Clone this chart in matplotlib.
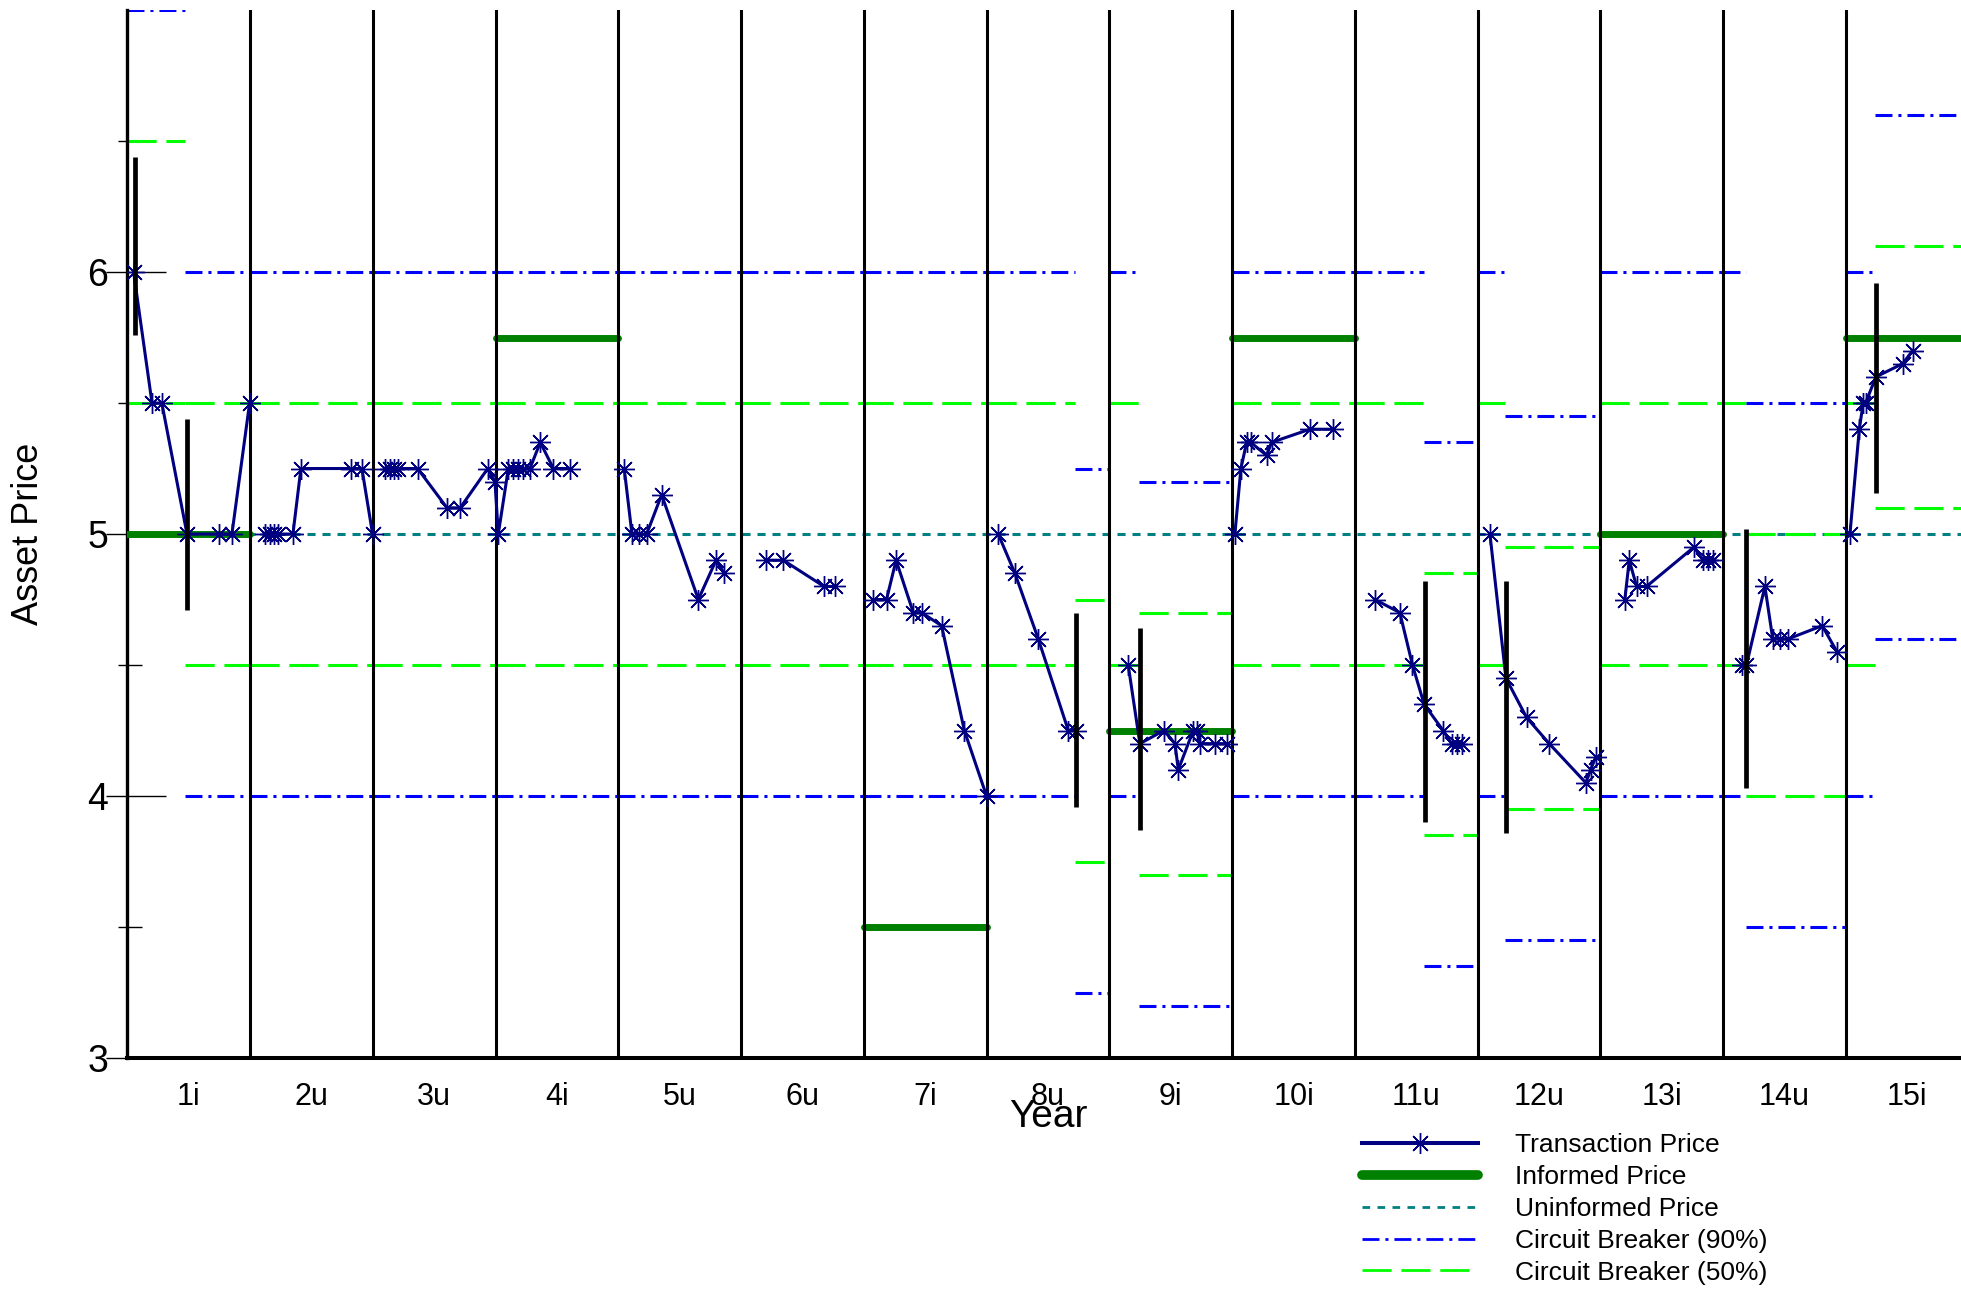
import numpy as np
import matplotlib
matplotlib.use("Agg")
import matplotlib.pyplot as plt
from matplotlib.lines import Line2D

plt.rcParams['font.family'] = ['Liberation Sans', 'DejaVu Sans']
plt.rcParams['lines.scale_dashes'] = False

nan = np.nan

# period tick labels (i = informed, u = uninformed)
period_labels = ['1i', '2u', '3u', '4i', '5u', '6u', '7i', '8u',
                 '9i', '10i', '11u', '12u', '13i', '14u', '15i']

# informed price per period (nan where the period is uninformed)
informed_price = [5.0, nan, nan, 5.75, nan, nan, 3.5, nan,
                  4.25, 5.75, nan, nan, 5.0, nan, 5.75]
uninformed_price = 5.0

# transaction prices, time in period units, nan breaks the line
trade_time = [0.05, 0.20, 0.28, 0.485, 0.743, 0.851, 0.995, nan,
              1.117, 1.158, 1.191, 1.223, 1.348, 1.413, 1.821, 1.910, 1.997, nan,
              2.100, 2.141, 2.168, 2.201, 2.364, 2.603, 2.711, 2.935, 2.994,
              3.021, 3.103, 3.144, 3.184, 3.225, 3.279, 3.363, 3.470, 3.607, nan,
              4.047, 4.110, 4.170, 4.230, 4.352, 4.651, 4.795, 4.862, nan,
              5.202, 5.343, 5.675, 5.764, nan,
              6.076, 6.184, 6.262, 6.402, 6.470, 6.633, 6.818, 6.999, nan,
              7.094, 7.230, 7.420, 7.665, 7.727, nan,
              8.153, 8.248, 8.444, 8.534, 8.561, 8.683, 8.715, 8.740, 8.860, 8.955, nan,
              9.022, 9.071, 9.118, 9.150, 9.281, 9.321, 9.634, 9.818, nan,
              10.163, 10.366, 10.469, 10.564, 10.719, 10.787, 10.829, 10.869, nan,
              11.100, 11.230, 11.398, 11.583, 11.882, 11.920, 11.963, nan,
              12.199, 12.235, 12.295, 12.376, 12.762, 12.838, 12.879, 12.920, nan,
              13.150, 13.190, 13.340, 13.404, 13.467, 13.531, 13.807, 13.928, nan,
              14.033, 14.109, 14.141, 14.160, 14.245, 14.462, 14.543]
trade_price = [6.0, 5.5, 5.5, 5.0, 5.0, 5.0, 5.5, nan,
               5.0, 5.0, 5.0, 5.0, 5.0, 5.25, 5.25, 5.25, 5.0, nan,
               5.25, 5.25, 5.25, 5.25, 5.25, 5.1, 5.1, 5.25, 5.2,
               5.0, 5.25, 5.25, 5.25, 5.25, 5.25, 5.35, 5.25, 5.25, nan,
               5.25, 5.0, 5.0, 5.0, 5.15, 4.75, 4.9, 4.85, nan,
               4.9, 4.9, 4.8, 4.8, nan,
               4.75, 4.75, 4.9, 4.7, 4.7, 4.65, 4.25, 4.0, nan,
               5.0, 4.85, 4.6, 4.25, 4.25, nan,
               4.5, 4.2, 4.25, 4.2, 4.1, 4.25, 4.25, 4.2, 4.2, 4.2, nan,
               5.0, 5.25, 5.35, 5.35, 5.3, 5.35, 5.4, 5.4, nan,
               4.75, 4.7, 4.5, 4.35, 4.25, 4.2, 4.2, 4.2, nan,
               5.0, 4.45, 4.3, 4.2, 4.05, 4.1, 4.15, nan,
               4.75, 4.9, 4.8, 4.8, 4.95, 4.9, 4.9, 4.9, nan,
               4.5, 4.5, 4.8, 4.6, 4.6, 4.6, 4.65, 4.55, nan,
               5.0, 5.4, 5.5, 5.5, 5.6, 5.65, 5.7]

# circuit breaker bands, one row per interval between resets
cb_start = [0.0, 0.47, 1, 2, 3, 4, 5, 6, 7, 7.72, 8, 8.24, 9, 10, 10.56,
            11, 11.22, 12, 13, 13.19, 14, 14.24]
cb_end = [0.47, 1, 2, 3, 4, 5, 6, 7, 7.72, 8, 8.24, 9, 10, 10.56, 11,
          11.22, 12, 13, 13.19, 14, 14.24, 15]
cb90_low = [5.0, 4, 4, 4, 4, 4, 4, 4, 4, 3.25, 4, 3.2, 4, 4, 3.35,
            4, 3.45, 4, 4, 3.5, 4, 4.6]
cb90_high = [7.0, 6, 6, 6, 6, 6, 6, 6, 6, 5.25, 6, 5.2, 6, 6, 5.35,
             6, 5.45, 6, 6, 5.5, 6, 6.6]
cb50_low = [5.5, 4.5, 4.5, 4.5, 4.5, 4.5, 4.5, 4.5, 4.5, 3.75, 4.5, 3.7, 4.5, 4.5, 3.85,
            4.5, 3.95, 4.5, 4.5, 4.0, 4.5, 5.1]
cb50_high = [6.5, 5.5, 5.5, 5.5, 5.5, 5.5, 5.5, 5.5, 5.5, 4.75, 5.5, 4.7, 5.5, 5.5, 4.85,
             5.5, 4.95, 5.5, 5.5, 5.0, 5.5, 6.1]

# trading halts (black bars)
halt_time = [0.064, 0.487, 7.727, 8.248, 10.567, 11.228, 13.19, 14.245]
halt_low = [5.76, 4.71, 3.96, 3.87, 3.90, 3.86, 4.03, 5.155]
halt_high = [6.44, 5.44, 4.70, 4.64, 4.82, 4.82, 5.02, 5.96]

navy = '#000080'
dgreen = '#008000'
teal = '#008080'
blue = '#0000ff'
lime = '#00ff00'
dash_dot = (0, (12.2, 4.3, 2.2, 4.3))
dash_long = (0, (21, 7))
dash_short = (0, (5.8, 5.0))

fig = plt.figure(figsize=(19.61, 12.89), dpi=100)
ax = fig.add_axes([0.0650, 0.1792, 0.9389, 0.8130])
n = len(period_labels)
ax.set_xlim(0, n)
ax.set_ylim(3, 7)

ax.axhline(uninformed_price, color=teal, lw=2.2, linestyle=dash_short, zorder=2)

ax.hlines(cb50_high, cb_start, cb_end, colors=lime, lw=2.2, linestyles=[dash_long], zorder=2)
ax.hlines(cb50_low, cb_start, cb_end, colors=lime, lw=2.2, linestyles=[dash_long], zorder=2)
ax.hlines(cb90_high, cb_start, cb_end, colors=blue, lw=2.2, linestyles=[dash_dot], zorder=2)
ax.hlines(cb90_low, cb_start, cb_end, colors=blue, lw=2.2, linestyles=[dash_dot], zorder=2)

starts = np.arange(n)
ax.hlines(informed_price, starts, starts + 1, colors=dgreen, lw=5, capstyle='round', zorder=3)

for k in range(1, n):
    ax.axvline(k, color='k', lw=2.2, zorder=4)

ax.plot(trade_time, trade_price, color=navy, lw=2.2, marker=(8, 2, 0),
        ms=15, mew=1, zorder=5)

ax.vlines(halt_time, halt_low, halt_high, colors='k', lw=3.4, zorder=6)

# x: labels centred in each period, no tick marks
ax.set_xticks(starts + 0.5, period_labels)
ax.tick_params(axis='x', length=0, labelsize=22, pad=17)

# y: ticks long inside, shorter outside
ax.set_yticks([3, 4, 5, 6])
ax.set_yticks([3.5, 4.5, 5.5, 6.5], minor=True)
ax.tick_params(axis='y', which='major', direction='in', length=28, width=1,
               labelsize=27, pad=14)
ax.tick_params(axis='y', which='minor', direction='in', length=11, width=1)
sec = ax.secondary_yaxis('left')
sec.set_yticks([3, 4, 5, 6])
sec.set_yticks([3.5, 4.5, 5.5, 6.5], minor=True)
sec.tick_params(which='major', direction='out', length=15, width=1, labelleft=False)
sec.tick_params(which='minor', direction='out', length=6.5, width=1, labelleft=False)
sec.spines['left'].set_visible(False)

for s in ['top', 'right']:
    ax.spines[s].set_visible(False)
ax.spines['left'].set_linewidth(2.4)
ax.spines['bottom'].set_linewidth(2.9)

ax.set_ylabel('Asset Price', fontsize=26, va='center')
ax.yaxis.set_label_coords(-0.0535, 0.5)
ax.set_xlabel('Year', fontsize=28, va='center')
ax.xaxis.set_label_coords(0.5, -0.0563)

handles = [
    Line2D([], [], color=navy, lw=2.9, marker=(8, 2, 0), ms=15, mew=1),
    Line2D([], [], color=dgreen, lw=7, solid_capstyle='round'),
    Line2D([], [], color=teal, lw=2, linestyle=(0, (5.5, 5.3))),
    Line2D([], [], color=blue, lw=2, linestyle=dash_dot),
    Line2D([], [], color=lime, lw=2, linestyle=dash_long),
]
labels = ['Transaction Price', 'Informed Price', 'Uninformed Price',
          'Circuit Breaker (90%)', 'Circuit Breaker (50%)']
fig.legend(handles, labels, loc='upper left', bbox_to_anchor=(0.6945, 0.121),
           frameon=False, fontsize=19, handlelength=4.4, handletextpad=1.4,
           labelspacing=0.30, borderpad=0, borderaxespad=0)

fig.savefig('out.png', dpi=100)
